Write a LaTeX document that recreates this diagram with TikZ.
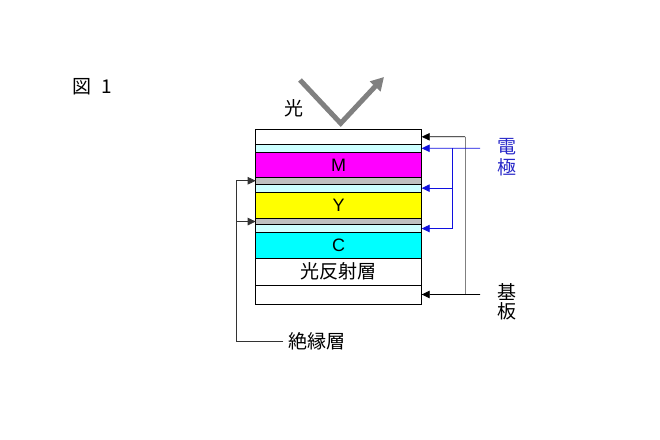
\documentclass[tikz,border=0pt]{standalone}
\usepackage{fontspec}
\setmainfont{Liberation Sans}
\newfontfamily\jp{Noto Sans CJK JP}
\usetikzlibrary{arrows.meta}
\definecolor{lcyan}{RGB}{204,255,255}
\definecolor{lgray}{RGB}{192,192,192}
\definecolor{mag}{RGB}{255,0,255}
\definecolor{yel}{RGB}{255,255,0}
\definecolor{cya}{RGB}{0,255,255}
\definecolor{elblue}{RGB}{16,16,224}
\definecolor{txtblue}{RGB}{40,40,200}
\definecolor{lightgray}{RGB}{128,128,128}
\tikzset{
  layer/.style={draw=black, line width=0.9bp, minimum width=166bp, inner sep=0pt, outer sep=0pt, anchor=north west},
  tip/.style={-{Triangle[length=8bp,width=7.5bp]}},
  blk/.style={black, line width=0.8bp},
  blu/.style={elblue, line width=0.9bp},
  lbl/.style={font=\jp\fontsize{19bp}{21bp}\selectfont, inner sep=0pt},
  ltr/.style={font=\fontsize{18bp}{20bp}\selectfont, inner sep=0pt},
}
\begin{document}
\begin{tikzpicture}[x=1bp,y=-1bp]
\useasboundingbox (0,0) rectangle (660,440);
% layers
\node[layer, minimum height=15bp] (L1) at (255.7,129.3) {};
\node[layer, fill=lcyan, minimum height=8bp] (L2) at (255.7,144.3) {};
\node[layer, fill=mag, minimum height=25.2bp] (L3) at (255.7,152.3) {};
\node[layer, fill=lgray, minimum height=6.5bp] (L4) at (255.7,177.5) {};
\node[layer, fill=lcyan, minimum height=8.3bp] (L5) at (255.7,184) {};
\node[layer, fill=yel, minimum height=26bp] (L6) at (255.7,192.3) {};
\node[layer, fill=lgray, minimum height=6.5bp] (L7) at (255.7,218.3) {};
\node[layer, fill=lcyan, minimum height=7.5bp] (L8) at (255.7,224.8) {};
\node[layer, fill=cya, minimum height=26bp] (L9) at (255.7,232.3) {};
\node[layer, minimum height=26.7bp] (L10) at (255.7,258.3) {};
\node[layer, minimum height=19bp] (L11) at (255.7,285) {};
\node[ltr] (tM) at (L3.center) {M};
\node[ltr] (tY) at (L6.center) {Y};
\node[ltr] (tC) at (L9.center) {C};
\node[lbl] (tR) at (L10.center) {光反射層};
% light arrow
\coordinate (lA) at (300,80);
\coordinate (lB) at (340.7,123.3);
\coordinate (lC) at (384,77);
\draw[lightgray, line width=5bp, -{Triangle[length=13bp,width=14bp]}] (lA) -- (lB) -- (lC);
\node[lbl] (tLight) at (294,108.5) {光};
% figure title
\node[lbl, anchor=west] (tFig) at (72,86.5) {図\hspace{0.55em}1};
% substrate (black)
\coordinate (kTop) at (465,136.8);
\coordinate (kBot) at (465,294.5);
\coordinate (kEnd) at (480,294.5);
\draw[lightgray, line width=1bp] (kTop) -- (kBot);
\draw[blk, tip] (kTop) -- (L1.east);
\draw[blk, tip] (kEnd) -- (L11.east);
\node[lbl] (tKi) at (507,292.5) {基};
\node[lbl] (tBan) at (507,311) {板};
% electrodes (blue)
\coordinate (eTop) at (480,148.3);
\coordinate (eBus) at (452.7,148.3);
\draw[blu, tip] (eTop) -- (L2.east);
\draw[blu, tip] (eBus) |- (L8.east);
\draw[blu, tip] (eBus |- L5.east) -- (L5.east);
\node[lbl, text=txtblue] (tDen) at (507,146.5) {電};
\node[lbl, text=txtblue] (tKyoku) at (507,167.5) {極};
% insulating layers
\coordinate (iEnd) at (283.3,341);
\coordinate (iBus) at (236,341);
\draw[blk, draw=black!80] (iEnd) -- (iBus) -- (iBus |- L4.west);
\draw[blk, draw=black!80, tip] (iBus |- L4.west) -- (L4.west);
\draw[blk, draw=black!80, tip] (iBus |- L7.west) -- (L7.west);
\node[lbl, anchor=west] (tIns) at (288,341) {絶縁層};
\end{tikzpicture}
\end{document}
